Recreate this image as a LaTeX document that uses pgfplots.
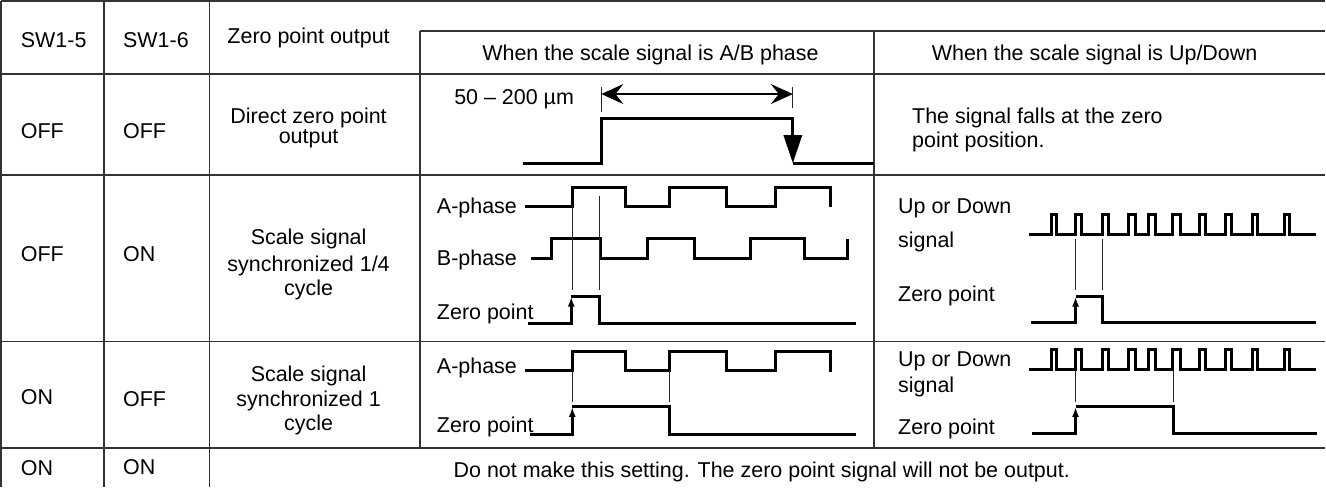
\documentclass[border=0pt]{standalone}
\usepackage{pgfplots}
\pgfplotsset{compat=1.18}
\usepackage{fontspec}
\setmainfont{Liberation Sans}
\usetikzlibrary{arrows.meta}
\begin{document}
\begin{tikzpicture}[font=\fontsize{10.7bp}{13bp}\selectfont]
\begin{axis}[scale only axis, width=663bp, height=246bp,
  xmin=0, xmax=1326, ymin=0, ymax=492, y dir=reverse,
  hide axis, clip=false, no markers,
  gridl/.style={draw=black!80, line width=0.8bp},
  wave/.style={black, line width=1.5bp, line join=miter},
  guide/.style={black!85, line width=0.5bp}]
% ---- table grid ----
\addplot[gridl] coordinates {(5,7) (1326,7)};
\addplot[gridl] coordinates {(423,37) (1326,37)};
\addplot[gridl] coordinates {(5,80) (1326,80)};
\addplot[gridl] coordinates {(5,181) (1326,181)};
\addplot[gridl] coordinates {(5,347) (1326,347)};
\addplot[gridl] coordinates {(5,453) (1326,453)};
\addplot[gridl] coordinates {(5,7) (5,492)};
\addplot[gridl] coordinates {(108,7) (108,492)};
\addplot[gridl] coordinates {(213,7) (213,492)};
\addplot[gridl] coordinates {(423,37) (423,453)};
\addplot[gridl] coordinates {(876,37) (876,453)};
% ---- row 2: direct zero point ----
\addplot[guide] coordinates {(604,93) (604,118)};
\addplot[guide] coordinates {(795,93) (795,114)};
\addplot[black, line width=0.6bp, {Stealth[length=11bp,width=10bp,inset=4bp]}-{Stealth[length=11bp,width=10bp,inset=4bp]}] coordinates {(604,100) (795,100)};
\addplot[wave, -{Triangle[length=14bp,width=9bp]}] coordinates {(526,169) (604,169) (604,124) (795,124) (795,169)};
\addplot[wave] coordinates {(795,169) (876,169)};
% ---- row 3 left: A/B phase, 1/4 cycle ----
\addplot[wave] coordinates {(528,212) (575,212) (575,193) (628,193) (628,212) (672,212) (672,193) (729,193) (729,212) (778,212) (778,193) (833,193) (833,213)};
\addplot[wave] coordinates {(534,264) (554,264) (554,244) (603,244) (603,264) (650,264) (650,244) (697,244) (697,264) (753,264) (753,244) (807,244) (807,264) (850,264) (850,245)};
\addplot[guide] coordinates {(575,212) (575,295)};
\addplot[guide] coordinates {(602,202) (602,295)};
\addplot[wave, -{Latex[length=5bp,width=3.5bp]}] coordinates {(531,329) (574,329) (574,302)};
\addplot[wave] coordinates {(574,302) (602,302) (602,329) (858,329)};
% ---- row 3 right: Up/Down ----
\addplot[wave] coordinates {(1031,240) (1053,240) (1053,220) (1058,220) (1058,240) (1077,240) (1077,220) (1083,220) (1083,240) (1104,240) (1104,220) (1110,220) (1110,240) (1130,240) (1130,220) (1137,220) (1137,240) (1150,240) (1150,220) (1157,220) (1157,240) (1174,240) (1174,220) (1182,220) (1182,240) (1201,240) (1201,220) (1207,220) (1207,240) (1227,240) (1227,220) (1233,220) (1233,240) (1253,240) (1253,220) (1258,220) (1258,240) (1285,240) (1285,220) (1290,220) (1290,240) (1317,240)};
\addplot[guide] coordinates {(1077,245) (1077,295)};
\addplot[guide] coordinates {(1104,245) (1104,295)};
\addplot[wave, -{Latex[length=5bp,width=3.5bp]}] coordinates {(1033,328) (1077,328) (1077,302)};
\addplot[wave] coordinates {(1077,302) (1104,302) (1104,328) (1317,328)};
% ---- row 4 left: 1 cycle ----
\addplot[wave] coordinates {(528,376) (575,376) (575,357) (628,357) (628,376) (672,376) (672,357) (729,357) (729,376) (778,376) (778,357) (833,357) (833,377)};
\addplot[guide] coordinates {(575,376) (575,407)};
\addplot[guide] coordinates {(672,376) (672,407)};
\addplot[wave, -{Latex[length=5bp,width=3.5bp]}] coordinates {(533,440) (575,440) (575,412)};
\addplot[wave] coordinates {(575,412) (672,412) (672,440) (858,440)};
% ---- row 4 right ----
\addplot[wave] coordinates {(1031,375) (1053,375) (1053,355) (1058,355) (1058,375) (1077,375) (1077,355) (1083,355) (1083,375) (1104,375) (1104,355) (1110,355) (1110,375) (1130,375) (1130,355) (1137,355) (1137,375) (1150,375) (1150,355) (1157,355) (1157,375) (1174,375) (1174,355) (1182,355) (1182,375) (1201,375) (1201,355) (1207,355) (1207,375) (1227,375) (1227,355) (1233,355) (1233,375) (1253,375) (1253,355) (1258,355) (1258,375) (1285,375) (1285,355) (1290,355) (1290,375) (1317,375)};
\addplot[guide] coordinates {(1077,375) (1077,407)};
\addplot[guide] coordinates {(1175,375) (1175,407)};
\addplot[wave, -{Latex[length=5bp,width=3.5bp]}] coordinates {(1034,439) (1077,439) (1077,412)};
\addplot[wave] coordinates {(1077,412) (1175,412) (1175,439) (1318,439)};
% ---- texts ----
\node[anchor=base west] at (axis cs:18,54) {SW1-5};
\node[anchor=base west] at (axis cs:120,54) {SW1-6};
\node[anchor=base] at (axis cs:312,50) {Zero point output};
\node[anchor=base] at (axis cs:653,67) {When the scale signal is A/B phase};
\node[anchor=base] at (axis cs:1096,67) {When the scale signal is Up/Down};
\node[anchor=base west] at (axis cs:18,144) {OFF};
\node[anchor=base west] at (axis cs:120,144) {OFF};
\node[anchor=base] at (axis cs:312,129) {Direct zero point};
\node[anchor=base] at (axis cs:312,149) {output};
\node[anchor=base] at (axis cs:517,110) {50 – 200 µm};
\node[anchor=base west] at (axis cs:907,129) {The signal falls at the zero};
\node[anchor=base west] at (axis cs:907,153) {point position.};
\node[anchor=base west] at (axis cs:18,267) {OFF};
\node[anchor=base west] at (axis cs:120,267) {ON};
\node[anchor=base] at (axis cs:312,250) {Scale signal};
\node[anchor=base] at (axis cs:312,277) {synchronized 1/4};
\node[anchor=base] at (axis cs:312,301) {cycle};
\node[anchor=base west] at (axis cs:433,219) {A-phase};
\node[anchor=base west] at (axis cs:433,271) {B-phase};
\node[anchor=base west] at (axis cs:433,325) {Zero point};
\node[anchor=base west] at (axis cs:893,219) {Up or Down};
\node[anchor=base west] at (axis cs:893,253) {signal};
\node[anchor=base west] at (axis cs:893,307) {Zero point};
\node[anchor=base west] at (axis cs:18,410) {ON};
\node[anchor=base west] at (axis cs:120,412) {OFF};
\node[anchor=base] at (axis cs:312,387) {Scale signal};
\node[anchor=base] at (axis cs:312,412) {synchronized 1};
\node[anchor=base] at (axis cs:312,436) {cycle};
\node[anchor=base west] at (axis cs:433,379) {A-phase};
\node[anchor=base west] at (axis cs:433,438) {Zero point};
\node[anchor=base west] at (axis cs:893,372) {Up or Down};
\node[anchor=base west] at (axis cs:893,398) {signal};
\node[anchor=base west] at (axis cs:893,440) {Zero point};
\node[anchor=base west] at (axis cs:18,480) {ON};
\node[anchor=base west] at (axis cs:120,479) {ON};
\node[anchor=base] at (axis cs:764,482) {Do not make this setting. The zero point signal will not be output.};
\end{axis}
\end{tikzpicture}
\end{document}
